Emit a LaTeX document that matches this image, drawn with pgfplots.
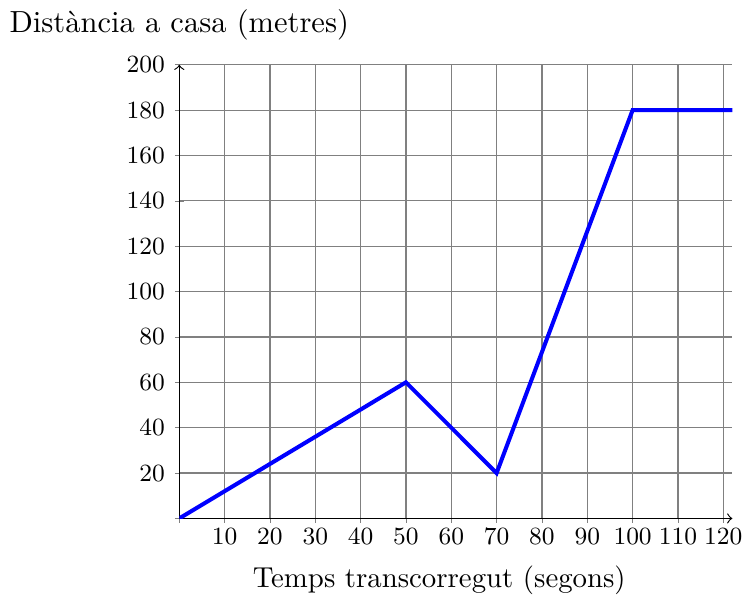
\documentclass[border=0pt]{standalone}
\usepackage{pgfplots}
\pgfplotsset{compat=1.18}
\begin{document}
\begin{tikzpicture}
\begin{axis}[
  scale only axis,
  width=192pt, height=157.5pt,
  axis lines=middle,
  xmin=0, xmax=122, ymin=0, ymax=200,
  xtick={0,10,...,120},
  ytick={0,20,...,200},
  xticklabels={,10,20,30,40,50,60,70,80,90,100,110,120},
  yticklabels={,20,40,60,80,100,120,140,160,180,200},
  hide obscured x ticks=false,
  hide obscured y ticks=false,
  tick align=center,
  major tick length=3pt,
  tick label style={font=\fontsize{8.6}{10}\selectfont},
  xticklabel style={yshift=1.8pt},
  grid=major,
  grid style={gray, thin},
  axis line style={->},
  xlabel={Temps transcorregut (segons)},
  ylabel={Dist\`ancia a casa (metres)},
  xlabel style={at={(axis description cs:0.47,0)}, anchor=north, yshift=-13pt},
  ylabel style={at={(axis description cs:0,1)}, anchor=south, yshift=5pt, rotate=0, font=\fontsize{10.6}{13}\selectfont},
]
\addplot[blue, line width=1.4pt] coordinates {(0,0) (50,60) (70,20) (100,180) (122,180)};
\end{axis}
\end{tikzpicture}
\end{document}
